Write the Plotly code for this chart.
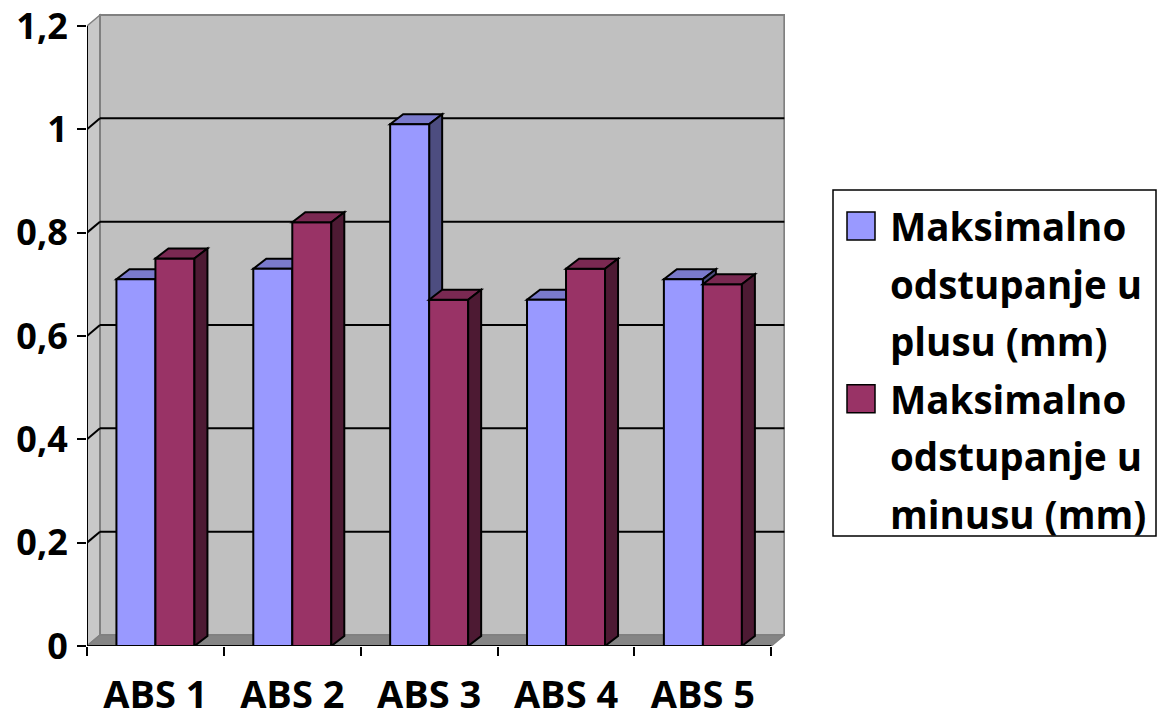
import plotly.graph_objects as go

# ---------------- data ----------------
CATEGORIES = ["ABS 1", "ABS 2", "ABS 3", "ABS 4", "ABS 5"]
SERIES_NAMES = [
    "Maksimalno odstupanje u plusu (mm)",
    "Maksimalno odstupanje u minusu (mm)",
]
LEGEND_LINES = [
    ["Maksimalno", "odstupanje u", "plusu (mm)"],
    ["Maksimalno", "odstupanje u", "minusu (mm)"],
]
PLUS_VALUES = [0.71, 0.73, 1.01, 0.67, 0.71]
MINUS_VALUES = [0.75, 0.82, 0.67, 0.73, 0.70]
Y_TICK_VALUES = [0, 0.2, 0.4, 0.6, 0.8, 1.0, 1.2]
Y_TICK_LABELS = ["0", "0,2", "0,4", "0,6", "0,8", "1", "1,2"]

# ---------------- style ----------------
FRONT_COLORS = ["#9999FF", "#993366"]
TOP_COLORS = ["#7A7ACC", "#7A2952"]
SIDE_COLORS = ["#4D4D80", "#4D1A33"]
WALL_COLOR = "#C0C0C0"
SIDE_WALL_COLOR = "#C8C8C8"
FLOOR_COLOR = "#858585"
EDGE_GRAY = "#808080"
FONT = "Open Sans"
Y_FONT_SIZE = 36
X_FONT_SIZE = 38
LEGEND_FONT_SIZE = 38.5

W, H = 1158, 720
ML, MR, MT, MB = 87, 373, 5, 74
X_RANGE = [-0.5, 4.6]
PLOT_W = W - ML - MR
PLOT_H = H - MT - MB
X_PPU = PLOT_W / (X_RANGE[1] - X_RANGE[0])
Y_PPU = 516.67
Y_RANGE = [0, PLOT_H / Y_PPU]
DX = 13 / X_PPU      # depth offset of walls (data units)
DY = 11 / Y_PPU
BDX = 13 / X_PPU     # depth offset of bars
BDY = 10 / Y_PPU
BARGAP = 0.43
BW = (1 - BARGAP) / 2
Y_TOP = Y_TICK_VALUES[-1]
X_LO, X_HI = -0.5, len(CATEGORIES) - 0.5


def poly(pts, fill, line_color="black", lw=2, layer="above"):
    path = "M " + " L ".join(f"{x:.5f},{y:.5f}" for x, y in pts) + " Z"
    return dict(type="path", xref="x", yref="y", path=path, fillcolor=fill,
                line=dict(color=line_color, width=lw), layer=layer)


def seg(x0, y0, x1, y1, color="black", lw=2, layer="above"):
    return dict(type="line", xref="x", yref="y", x0=x0, y0=y0, x1=x1, y1=y1,
                line=dict(color=color, width=lw), layer=layer)


def px_x(p):
    return (p - ML) / PLOT_W


def px_y(p):
    return 1 - (p - MT) / PLOT_H


fig = go.Figure()
for name, vals, col in zip(SERIES_NAMES, [PLUS_VALUES, MINUS_VALUES], FRONT_COLORS):
    fig.add_trace(go.Bar(
        x=CATEGORIES, y=vals, name=name, showlegend=False,
        marker=dict(color=col, line=dict(color="black", width=2)),
        hoverinfo="skip",
    ))

shapes = []
# walls
shapes.append(poly([(X_LO, 0), (X_LO, Y_TOP), (X_LO + DX, Y_TOP + DY), (X_LO + DX, DY)],
                   SIDE_WALL_COLOR, EDGE_GRAY, 1.5, "below"))
shapes.append(dict(type="rect", xref="x", yref="y", x0=X_LO + DX, x1=X_HI + DX,
                   y0=DY, y1=Y_TOP + DY, fillcolor=WALL_COLOR,
                   line=dict(color=EDGE_GRAY, width=2), layer="below"))
shapes.append(poly([(X_LO, 0), (X_HI, 0), (X_HI + DX, DY), (X_LO + DX, DY)],
                   FLOOR_COLOR, EDGE_GRAY, 1.5, "below"))
# gridlines on back wall and side wall
for v in Y_TICK_VALUES[1:-1]:
    shapes.append(seg(X_LO + DX, v + DY, X_HI + DX, v + DY, layer="below"))
    shapes.append(seg(X_LO, v, X_LO + DX, v + DY, layer="below"))

# 3D faces of the bars
for s, vals in enumerate([PLUS_VALUES, MINUS_VALUES]):
    layer = "below" if s == 0 else "above"
    for i, v in enumerate(vals):
        xl = i - BW + s * BW
        xr = xl + BW
        shapes.append(poly([(xl, v), (xr, v), (xr + BDX, v + BDY), (xl + BDX, v + BDY)],
                           TOP_COLORS[s], layer=layer))
        shapes.append(poly([(xr, 0), (xr, v), (xr + BDX, v + BDY), (xr + BDX, BDY)],
                           SIDE_COLORS[s], layer=layer))

# axis lines
shapes.append(seg(X_LO, 0, X_LO, Y_TOP))
shapes.append(seg(X_LO, 0, X_HI, 0))

# legend (custom, drawn with larger swatches)
shapes.append(dict(type="rect", xref="paper", yref="paper",
                   x0=px_x(833), x1=px_x(1156), y0=px_y(536), y1=px_y(190),
                   fillcolor="white", line=dict(color="black", width=1.5)))
annotations = []
LINE_PITCH = 57.6
first_line = 226
for s in range(2):
    c = first_line + 3 * s * LINE_PITCH
    shapes.append(dict(type="rect", xref="paper", yref="paper",
                       x0=px_x(847), x1=px_x(875), y0=px_y(c + 14), y1=px_y(c - 14),
                       fillcolor=FRONT_COLORS[s], line=dict(color="black", width=1.5)))
    for k, line in enumerate(LEGEND_LINES[s]):
        annotations.append(dict(
            xref="paper", yref="paper", x=px_x(888), y=px_y(c + k * LINE_PITCH),
            xanchor="left", yanchor="middle", align="left", showarrow=False,
            text=line,
            font=dict(family=FONT, size=LEGEND_FONT_SIZE, color="black", weight="bold"),
        ))

fig.update_layout(
    width=W, height=H,
    margin=dict(l=ML, r=MR, t=MT, b=MB, pad=0, autoexpand=False),
    paper_bgcolor="white", plot_bgcolor="rgba(0,0,0,0)",
    barmode="group", bargap=BARGAP, bargroupgap=0,
    shapes=shapes, annotations=annotations,
    font=dict(family=FONT, color="black"),
    xaxis=dict(
        type="category", range=X_RANGE, tickson="boundaries",
        ticks="outside", ticklen=9, tickwidth=2, tickcolor="black",
        showgrid=False, zeroline=False, showline=False,
        tickfont=dict(family=FONT, size=X_FONT_SIZE, color="black", weight="bold"),
        ticklabelstandoff=23, ticklabeloverflow="allow",
        fixedrange=True,
    ),
    yaxis=dict(
        range=Y_RANGE, tickmode="array", tickvals=Y_TICK_VALUES, ticktext=Y_TICK_LABELS,
        ticks="outside", ticklen=9, tickwidth=2, tickcolor="black",
        showgrid=False, zeroline=False, showline=False,
        tickfont=dict(family=FONT, size=Y_FONT_SIZE, color="black", weight="bold"),
        ticklabeloverflow="allow", ticklabelstandoff=2,
        fixedrange=True,
    ),
    showlegend=False,
)

fig.write_html("out.html", post_script="document.body.style.margin='0';",
               config={"displayModeBar": False})
